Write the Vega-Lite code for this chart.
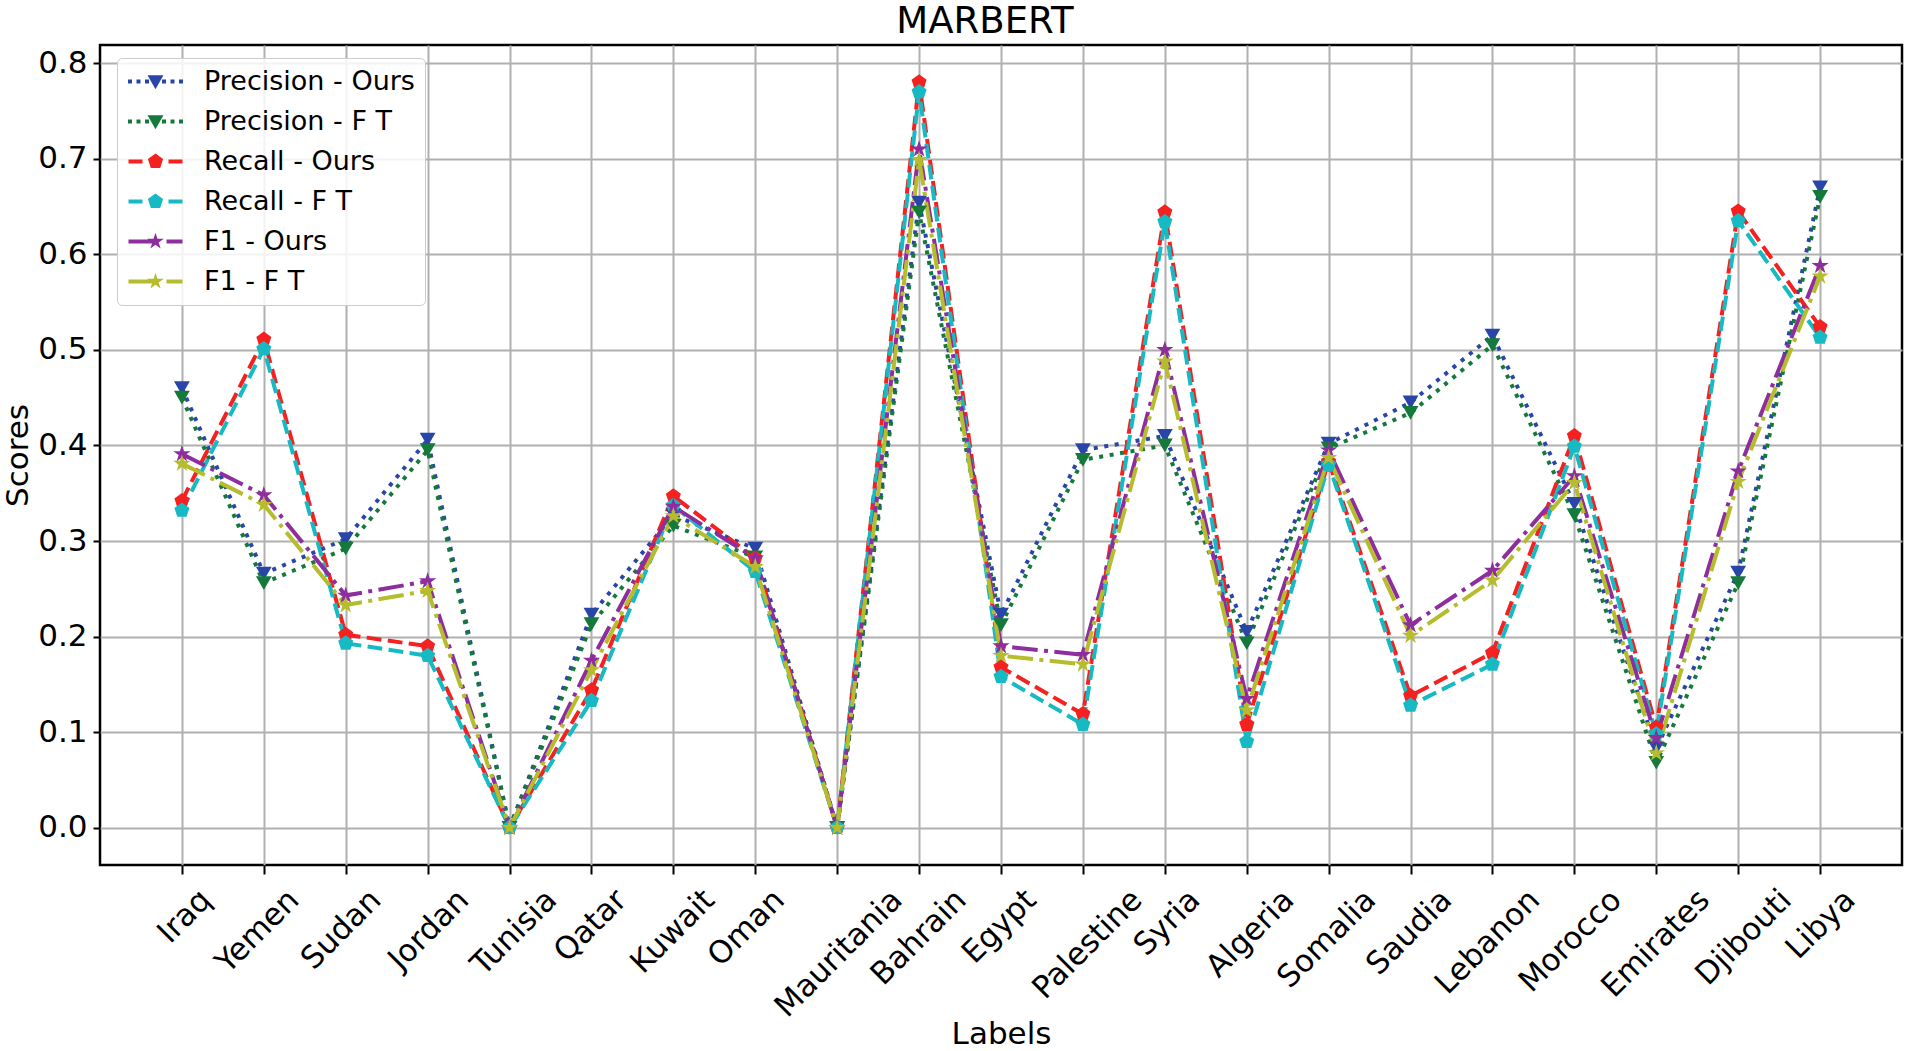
{
  "$schema": "https://vega.github.io/schema/vega-lite/v6.json",
  "width": 1802,
  "height": 820,
  "autosize": {"type": "none"},
  "padding": {"left": 100, "top": 45, "right": 4, "bottom": 186},
  "background": "white",
  "title": {"text": "MARBERT", "fontSize": 37, "font": "DejaVu Sans", "fontWeight": "normal", "offset": 4, "anchor": "middle", "dx": -16, "color": "black"},
  "config": {
    "font": "DejaVu Sans",
    "view": {"stroke": "black", "strokeWidth": 2.5},
    "axis": {"labelFont": "DejaVu Sans", "titleFont": "DejaVu Sans", "labelFontSize": 31, "titleFontSize": 31, "titleFontWeight": "normal", "labelColor": "black", "titleColor": "black", "gridColor": "#b0b0b0", "gridWidth": 2, "gridOpacity": 1, "domain": false, "tickColor": "black", "tickWidth": 2, "tickSize": 8}
  },
  "data": {"values": [
    {"label":"Iraq","series":"Precision - Ours","value":0.46},
    {"label":"Iraq","series":"Precision - F T","value":0.45},
    {"label":"Iraq","series":"Recall - Ours","value":0.342},
    {"label":"Iraq","series":"Recall - F T","value":0.332},
    {"label":"Iraq","series":"F1 - Ours","value":0.391},
    {"label":"Iraq","series":"F1 - F T","value":0.381},
    {"label":"Yemen","series":"Precision - Ours","value":0.266},
    {"label":"Yemen","series":"Precision - F T","value":0.256},
    {"label":"Yemen","series":"Recall - Ours","value":0.511},
    {"label":"Yemen","series":"Recall - F T","value":0.501},
    {"label":"Yemen","series":"F1 - Ours","value":0.348},
    {"label":"Yemen","series":"F1 - F T","value":0.338},
    {"label":"Sudan","series":"Precision - Ours","value":0.302},
    {"label":"Sudan","series":"Precision - F T","value":0.292},
    {"label":"Sudan","series":"Recall - Ours","value":0.202},
    {"label":"Sudan","series":"Recall - F T","value":0.193},
    {"label":"Sudan","series":"F1 - Ours","value":0.243},
    {"label":"Sudan","series":"F1 - F T","value":0.233},
    {"label":"Jordan","series":"Precision - Ours","value":0.406},
    {"label":"Jordan","series":"Precision - F T","value":0.395},
    {"label":"Jordan","series":"Recall - Ours","value":0.19},
    {"label":"Jordan","series":"Recall - F T","value":0.18},
    {"label":"Jordan","series":"F1 - Ours","value":0.258},
    {"label":"Jordan","series":"F1 - F T","value":0.248},
    {"label":"Tunisia","series":"Precision - Ours","value":0.0},
    {"label":"Tunisia","series":"Precision - F T","value":0.0},
    {"label":"Tunisia","series":"Recall - Ours","value":0.0},
    {"label":"Tunisia","series":"Recall - F T","value":0.0},
    {"label":"Tunisia","series":"F1 - Ours","value":0.0},
    {"label":"Tunisia","series":"F1 - F T","value":0.0},
    {"label":"Qatar","series":"Precision - Ours","value":0.223},
    {"label":"Qatar","series":"Precision - F T","value":0.213},
    {"label":"Qatar","series":"Recall - Ours","value":0.144},
    {"label":"Qatar","series":"Recall - F T","value":0.133},
    {"label":"Qatar","series":"F1 - Ours","value":0.175},
    {"label":"Qatar","series":"F1 - F T","value":0.165},
    {"label":"Kuwait","series":"Precision - Ours","value":0.327},
    {"label":"Kuwait","series":"Precision - F T","value":0.316},
    {"label":"Kuwait","series":"Recall - Ours","value":0.347},
    {"label":"Kuwait","series":"Recall - F T","value":0.337},
    {"label":"Kuwait","series":"F1 - Ours","value":0.336},
    {"label":"Kuwait","series":"F1 - F T","value":0.326},
    {"label":"Oman","series":"Precision - Ours","value":0.292},
    {"label":"Oman","series":"Precision - F T","value":0.283},
    {"label":"Oman","series":"Recall - Ours","value":0.282},
    {"label":"Oman","series":"Recall - F T","value":0.268},
    {"label":"Oman","series":"F1 - Ours","value":0.282},
    {"label":"Oman","series":"F1 - F T","value":0.273},
    {"label":"Mauritania","series":"Precision - Ours","value":0.0},
    {"label":"Mauritania","series":"Precision - F T","value":0.0},
    {"label":"Mauritania","series":"Recall - Ours","value":0.0},
    {"label":"Mauritania","series":"Recall - F T","value":0.0},
    {"label":"Mauritania","series":"F1 - Ours","value":0.0},
    {"label":"Mauritania","series":"F1 - F T","value":0.0},
    {"label":"Bahrain","series":"Precision - Ours","value":0.654},
    {"label":"Bahrain","series":"Precision - F T","value":0.644},
    {"label":"Bahrain","series":"Recall - Ours","value":0.78},
    {"label":"Bahrain","series":"Recall - F T","value":0.77},
    {"label":"Bahrain","series":"F1 - Ours","value":0.71},
    {"label":"Bahrain","series":"F1 - F T","value":0.699},
    {"label":"Egypt","series":"Precision - Ours","value":0.223},
    {"label":"Egypt","series":"Precision - F T","value":0.212},
    {"label":"Egypt","series":"Recall - Ours","value":0.168},
    {"label":"Egypt","series":"Recall - F T","value":0.158},
    {"label":"Egypt","series":"F1 - Ours","value":0.19},
    {"label":"Egypt","series":"F1 - F T","value":0.18},
    {"label":"Palestine","series":"Precision - Ours","value":0.395},
    {"label":"Palestine","series":"Precision - F T","value":0.385},
    {"label":"Palestine","series":"Recall - Ours","value":0.119},
    {"label":"Palestine","series":"Recall - F T","value":0.108},
    {"label":"Palestine","series":"F1 - Ours","value":0.181},
    {"label":"Palestine","series":"F1 - F T","value":0.171},
    {"label":"Syria","series":"Precision - Ours","value":0.41},
    {"label":"Syria","series":"Precision - F T","value":0.4},
    {"label":"Syria","series":"Recall - Ours","value":0.644},
    {"label":"Syria","series":"Recall - F T","value":0.634},
    {"label":"Syria","series":"F1 - Ours","value":0.5},
    {"label":"Syria","series":"F1 - F T","value":0.488},
    {"label":"Algeria","series":"Precision - Ours","value":0.205},
    {"label":"Algeria","series":"Precision - F T","value":0.193},
    {"label":"Algeria","series":"Recall - Ours","value":0.108},
    {"label":"Algeria","series":"Recall - F T","value":0.09},
    {"label":"Algeria","series":"F1 - Ours","value":0.135},
    {"label":"Algeria","series":"F1 - F T","value":0.123},
    {"label":"Somalia","series":"Precision - Ours","value":0.402},
    {"label":"Somalia","series":"Precision - F T","value":0.397},
    {"label":"Somalia","series":"Recall - Ours","value":0.383},
    {"label":"Somalia","series":"Recall - F T","value":0.38},
    {"label":"Somalia","series":"F1 - Ours","value":0.395},
    {"label":"Somalia","series":"F1 - F T","value":0.387},
    {"label":"Saudia","series":"Precision - Ours","value":0.445},
    {"label":"Saudia","series":"Precision - F T","value":0.434},
    {"label":"Saudia","series":"Recall - Ours","value":0.138},
    {"label":"Saudia","series":"Recall - F T","value":0.128},
    {"label":"Saudia","series":"F1 - Ours","value":0.212},
    {"label":"Saudia","series":"F1 - F T","value":0.201},
    {"label":"Lebanon","series":"Precision - Ours","value":0.515},
    {"label":"Lebanon","series":"Precision - F T","value":0.505},
    {"label":"Lebanon","series":"Recall - Ours","value":0.183},
    {"label":"Lebanon","series":"Recall - F T","value":0.171},
    {"label":"Lebanon","series":"F1 - Ours","value":0.269},
    {"label":"Lebanon","series":"F1 - F T","value":0.259},
    {"label":"Morocco","series":"Precision - Ours","value":0.339},
    {"label":"Morocco","series":"Precision - F T","value":0.327},
    {"label":"Morocco","series":"Recall - Ours","value":0.41},
    {"label":"Morocco","series":"Recall - F T","value":0.399},
    {"label":"Morocco","series":"F1 - Ours","value":0.368},
    {"label":"Morocco","series":"F1 - F T","value":0.361},
    {"label":"Emirates","series":"Precision - Ours","value":0.083},
    {"label":"Emirates","series":"Precision - F T","value":0.068},
    {"label":"Emirates","series":"Recall - Ours","value":0.105},
    {"label":"Emirates","series":"Recall - F T","value":0.098},
    {"label":"Emirates","series":"F1 - Ours","value":0.094},
    {"label":"Emirates","series":"F1 - F T","value":0.078},
    {"label":"Djibouti","series":"Precision - Ours","value":0.267},
    {"label":"Djibouti","series":"Precision - F T","value":0.256},
    {"label":"Djibouti","series":"Recall - Ours","value":0.645},
    {"label":"Djibouti","series":"Recall - F T","value":0.635},
    {"label":"Djibouti","series":"F1 - Ours","value":0.373},
    {"label":"Djibouti","series":"F1 - F T","value":0.362},
    {"label":"Libya","series":"Precision - Ours","value":0.67},
    {"label":"Libya","series":"Precision - F T","value":0.66},
    {"label":"Libya","series":"Recall - Ours","value":0.524},
    {"label":"Libya","series":"Recall - F T","value":0.513},
    {"label":"Libya","series":"F1 - Ours","value":0.588},
    {"label":"Libya","series":"F1 - F T","value":0.577}
  ]},
  "encoding": {
    "x": {
      "field": "label", "type": "nominal",
      "sort": ["Iraq","Yemen","Sudan","Jordan","Tunisia","Qatar","Kuwait","Oman","Mauritania","Bahrain","Egypt","Palestine","Syria","Algeria","Somalia","Saudia","Lebanon","Morocco","Emirates","Djibouti","Libya"],
      "scale": {"type": "point", "padding": 1},
      "axis": {
        "title": "Labels", "labelAngle": -45, "labelAlign": "right", "labelBaseline": "middle",
        "tickSize": 9, "labelPadding": 21, "grid": true,
        "labelOffset": {"expr": "6.0 * length(datum.label)"},
        "titleY": 178, "titleBaseline": "alphabetic"
      }
    },
    "y": {
      "field": "value", "type": "quantitative",
      "scale": {"domain": [-0.039, 0.819], "nice": false, "zero": false},
      "axis": {"title": "Scores", "values": [0, 0.1, 0.2, 0.3, 0.4, 0.5, 0.6, 0.7, 0.8], "format": ".1f", "tickSize": 7, "labelPadding": 6, "grid": true, "titleX": -73, "titleBaseline": "alphabetic"}
    },
    "color": {
      "field": "series", "type": "nominal",
      "sort": ["Precision - Ours","Precision - F T","Recall - Ours","Recall - F T","F1 - Ours","F1 - F T"],
      "scale": {"domain": ["Precision - Ours","Precision - F T","Recall - Ours","Recall - F T","F1 - Ours","F1 - F T"], "range": ["#2a45a8","#14793a","#f52020","#17b9c2","#8e2e9e","#b5bd2c"]},
      "legend": {
        "title": null, "orient": "none", "legendX": 17, "legendY": 13,
        "labelFont": "DejaVu Sans", "labelFontSize": 27, "labelColor": "black", "labelLimit": 600,
        "symbolSize": 196, "symbolOffset": 15, "labelOffset": 35, "rowPadding": 12, "padding": 10,
        "strokeColor": "#cccccc", "fillColor": "rgba(255,255,255,0.85)", "cornerRadius": 5,
        "encode": {"symbols": {"update": {
          "shape": {"signal": "indexof(datum.value, 'Precision') == 0 ? 'M-3.929,-0.286L-3.357,-0.286L-3.357,0.286L-3.929,0.286ZM-2.714,-0.286L-2.143,-0.286L-2.143,0.286L-2.714,0.286ZM-1.5,-0.286L-0.929,-0.286L-0.929,0.286L-1.5,0.286ZM0.929,-0.286L1.5,-0.286L1.5,0.286L0.929,0.286ZM2.143,-0.286L2.714,-0.286L2.714,0.286L2.143,0.286ZM3.357,-0.286L3.929,-0.286L3.929,0.286L3.357,0.286ZM-1.14,-0.9L1.14,-0.9L0,1.1Z' : (indexof(datum.value, 'Recall') == 0 ? 'M-3.857,-0.286L-1.857,-0.286L-1.857,0.286L-3.857,0.286ZM1.857,-0.286L3.857,-0.286L3.857,0.286L1.857,0.286ZM0,-1.14L1.085,-0.352L0.671,0.922L-0.671,0.922L-1.085,-0.352Z' : 'M-3.857,-0.286L-0.429,-0.286L-0.429,0.286L-3.857,0.286ZM1.571,-0.286L3.857,-0.286L3.857,0.286L1.571,0.286ZM0,-1.25L0.279,-0.384L1.189,-0.386L0.452,0.146L0.734,1.011L0,0.475L-0.734,1.011L-0.452,0.146L-1.189,-0.386L-0.279,-0.384Z')"},
          "fill": {"signal": "scale('color', datum.value)"},
          "fillOpacity": {"value": 1},
          "strokeWidth": {"value": 0},
          "opacity": {"value": 1}
        }}}
      }
    }
  },
  "layer": [
    {
      "mark": {"type": "line", "strokeWidth": 4, "strokeCap": "butt"},
      "encoding": {
        "strokeDash": {
          "field": "series", "type": "nominal",
          "scale": {"domain": ["Precision - Ours","Precision - F T","Recall - Ours","Recall - F T","F1 - Ours","F1 - F T"], "range": [[4, 6.6],[4, 6.6],[14.8, 6.4],[14.8, 6.4],[25.6, 6.4, 4, 6.4],[25.6, 6.4, 4, 6.4]]},
          "legend": null
        }
      }
    },
    {
      "transform": [{"filter": "indexof(datum.series, 'Precision') == 0"}],
      "mark": {"type": "point", "filled": true, "opacity": 1, "size": 250, "shape": "triangle-down"}
    },
    {
      "transform": [{"filter": "indexof(datum.series, 'Recall') == 0"}],
      "mark": {"type": "point", "filled": true, "opacity": 1, "size": 250, "shape": "M0,-1L0.951,-0.309L0.588,0.809L-0.588,0.809L-0.951,-0.309Z"}
    },
    {
      "transform": [{"filter": "indexof(datum.series, 'F1') == 0"}],
      "mark": {"type": "point", "filled": true, "opacity": 1, "size": 250, "shape": "M0,-1.15L0.256,-0.353L1.094,-0.355L0.416,0.135L0.676,0.93L0,0.437L-0.676,0.93L-0.416,0.135L-1.094,-0.355L-0.256,-0.353Z"}
    }
  ]
}
